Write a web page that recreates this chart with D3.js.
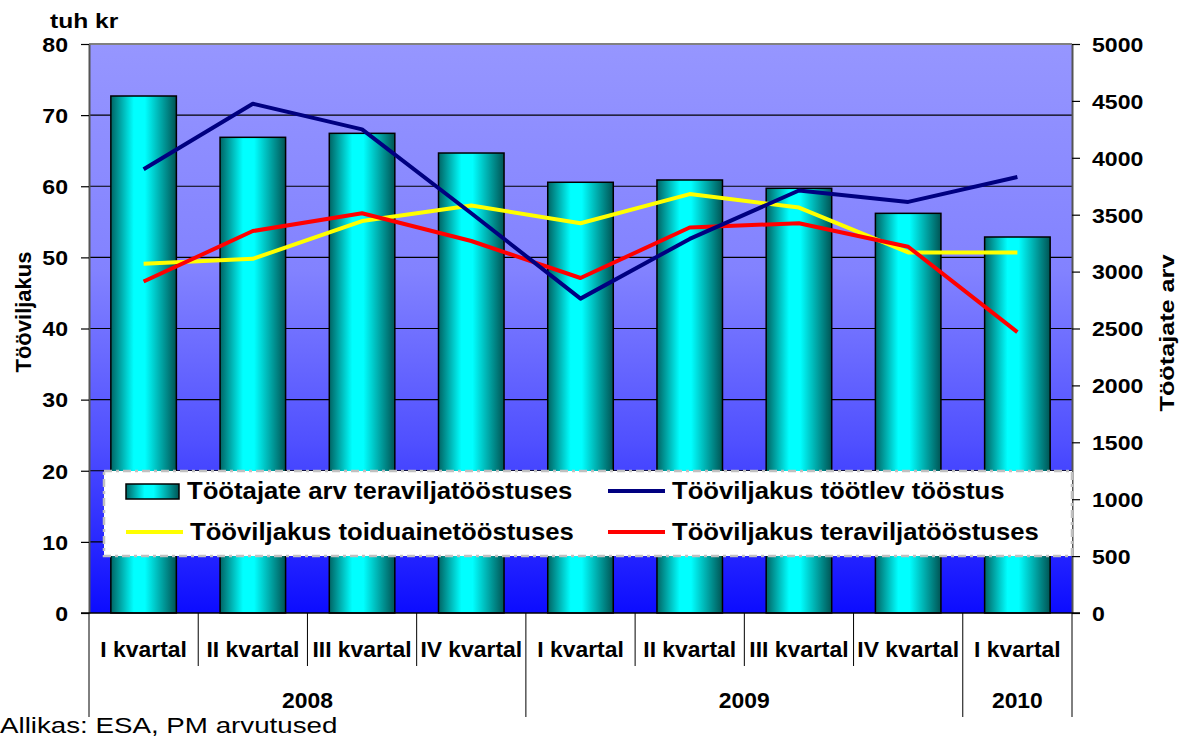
<!DOCTYPE html>
<html><head><meta charset="utf-8">
<script src="https://cdn.jsdelivr.net/npm/d3@7"></script>
<style>body{margin:0;background:#fff}svg{display:block}text{font-family:"Liberation Sans",Arial,sans-serif}</style>
</head><body><svg id="c" width="1184" height="738"></svg>
<script>
const quarters = ["I kvartal","II kvartal","III kvartal","IV kvartal","I kvartal","II kvartal","III kvartal","IV kvartal","I kvartal"];
const years = [{label:"2008",from:0,to:4},{label:"2009",from:4,to:8},{label:"2010",from:8,to:9}];
const employees = [4543,4180,4215,4042,3785,3805,3732,3512,3304];
const prodManufacturing = [62.4,71.6,68.0,56.2,44.2,52.6,59.4,57.8,61.3];
const prodFood = [49.1,49.8,55.1,57.3,54.8,58.9,57.0,50.7,50.7];
const prodGrain = [46.6,53.7,56.2,52.3,47.1,54.2,54.8,51.5,39.5];
const leftTicks = [0,10,20,30,40,50,60,70,80];
const rightTicks = [0,500,1000,1500,2000,2500,3000,3500,4000,4500,5000];
const seriesNames = ["Töötajate arv teraviljatööstuses","Tööviljakus töötlev tööstus","Tööviljakus toiduainetööstuses","Tööviljakus teraviljatööstuses"];

const svg = d3.select("#c");
const L=89,R=1072,T=44,B=613;
const idx = d3.range(quarters.length);
const x = d3.scaleBand().domain(idx).range([L,R]).paddingInner(0.4).paddingOuter(0.2);
const xs = d3.scaleBand().domain(idx).range([L,R]);
const yL = d3.scaleLinear().domain([0,80]).range([B,T]);
const yR = d3.scaleLinear().domain([0,5000]).range([B,T]);

function stretch(sel,k){sel.each(function(){const w=this.getComputedTextLength();d3.select(this).attr("textLength",w*k).attr("lengthAdjust","spacingAndGlyphs");});}

const defs = svg.append("defs");
const bg = defs.append("linearGradient").attr("id","bg").attr("x1",0).attr("y1",0).attr("x2",0).attr("y2",1);
[[0,"#9696ff"],[0.4,"#8282ff"],[0.7,"#5050ff"],[1,"#0c0cff"]].forEach(s=>bg.append("stop").attr("offset",s[0]).attr("stop-color",s[1]));
const bar = defs.append("linearGradient").attr("id","bar").attr("x1",0).attr("y1",0).attr("x2",1).attr("y2",0);
[[0,"#006464"],[0.35,"#00ffff"],[0.52,"#00ffff"],[1,"#005454"]].forEach(s=>bar.append("stop").attr("offset",s[0]).attr("stop-color",s[1]));

svg.append("rect").attr("x",L).attr("y",T).attr("width",R-L).attr("height",B-T).attr("fill","url(#bg)");
svg.append("line").attr("x1",L).attr("x2",R).attr("y1",T).attr("y2",T).attr("stroke","#808080").attr("stroke-width",2);

// gridlines
svg.append("g").selectAll("line").data(leftTicks.filter(d=>d>0&&d<80)).join("line")
  .attr("x1",L).attr("x2",R).attr("y1",d=>yL(d)).attr("y2",d=>yL(d)).attr("stroke","#000").attr("stroke-width",1.2);

// bars
svg.append("g").selectAll("rect").data(employees).join("rect")
  .attr("x",(d,i)=>x(i)).attr("width",x.bandwidth()).attr("y",d=>yR(d)).attr("height",d=>B-yR(d))
  .attr("fill","url(#bar)").attr("stroke","#000").attr("stroke-width",1.5);

// lines
const line = d3.line().x((d,i)=>xs(i)+xs.bandwidth()/2).y(d=>yL(d));
[[prodFood,"#ffff00"],[prodGrain,"#ff0000"],[prodManufacturing,"#000080"]].forEach(([data,c])=>{
  svg.append("path").datum(data).attr("d",line).attr("fill","none").attr("stroke",c).attr("stroke-width",4).attr("stroke-linejoin","round");
});

// axes
const gl = svg.append("g").attr("transform",`translate(${L},0)`).call(d3.axisLeft(yL).tickValues(leftTicks).tickSize(8).tickSizeOuter(0));
gl.select(".domain").attr("stroke","#555").attr("stroke-width",2);
gl.selectAll(".tick line").attr("stroke","#000").attr("stroke-width",1.2);
gl.selectAll("text").attr("font-size",21).attr("font-weight","bold").attr("fill","#000").attr("x",-21).attr("dy","0.35em").call(stretch,1.1);
const gr = svg.append("g").attr("transform",`translate(${R},0)`).call(d3.axisRight(yR).tickValues(rightTicks).tickFormat(d3.format("d")).tickSize(8).tickSizeOuter(0));
gr.select(".domain").attr("stroke","#555").attr("stroke-width",2);
gr.selectAll(".tick line").attr("stroke","#000").attr("stroke-width",1.2);
gr.selectAll("text").attr("font-size",21).attr("font-weight","bold").attr("fill","#000").attr("x",20).attr("dy","0.35em").call(stretch,1.1);

// category axis
svg.append("line").attr("x1",L-8).attr("x2",R+8).attr("y1",B).attr("y2",B).attr("stroke","#000").attr("stroke-width",1.5);
const bounds = d3.range(quarters.length+1).map(i=>i<quarters.length?xs(i):R);
const yearBounds = new Set(years.flatMap(y=>[y.from,y.to]));
svg.append("g").selectAll("line").data(bounds).join("line")
  .attr("x1",d=>d).attr("x2",d=>d).attr("y1",B).attr("y2",(d,i)=>yearBounds.has(i)?717:666)
  .attr("stroke","#000").attr("stroke-width",1);
svg.append("g").selectAll("text").data(quarters).join("text")
  .attr("x",(d,i)=>xs(i)+xs.bandwidth()/2).attr("y",649).attr("dy","0.35em").attr("text-anchor","middle")
  .attr("font-size",22).attr("font-weight","bold").text(d=>d).call(stretch,1.04);
svg.append("g").selectAll("text").data(years).join("text")
  .attr("x",d=>(bounds[d.from]+bounds[d.to])/2).attr("y",700).attr("dy","0.35em").attr("text-anchor","middle")
  .attr("font-size",22).attr("font-weight","bold").text(d=>d.label).call(stretch,1.04);

// titles
svg.append("text").attr("x",50).attr("y",28).attr("font-size",21).attr("font-weight","bold").text("tuh kr").call(stretch,1.17);
svg.append("text").attr("transform","translate(31,312) rotate(-90)").attr("text-anchor","middle").attr("font-size",22).attr("font-weight","bold").text("Tööviljakus").call(stretch,1.0);
svg.append("text").attr("transform","translate(1174,333) rotate(-90)").attr("text-anchor","middle").attr("font-size",21).attr("font-weight","bold").text("Töötajate arv").call(stretch,1.2);
svg.append("text").attr("x",0).attr("y",733).attr("font-size",22).text("Allikas: ESA, PM arvutused").call(stretch,1.26);

// legend
const lg = svg.append("g");
lg.append("rect").attr("x",104).attr("y",471).attr("width",R-104).attr("height",85).attr("fill","#fff")
  .attr("stroke","#c0c0c0").attr("stroke-width",2.5).attr("stroke-dasharray","8,4,3,4");
const items = [
  {name:seriesNames[0],type:"bar",x:126,y:491},
  {name:seriesNames[1],type:"line",color:"#000080",x:608,y:491},
  {name:seriesNames[2],type:"line",color:"#ffff00",x:126,y:532},
  {name:seriesNames[3],type:"line",color:"#ff0000",x:608,y:532}
];
items.forEach(it=>{
  if(it.type==="bar") lg.append("rect").attr("x",it.x).attr("y",it.y-7).attr("width",53).attr("height",15).attr("fill","url(#bar)").attr("stroke","#000").attr("stroke-width",1.5);
  else lg.append("line").attr("x1",it.x).attr("x2",it.x+57).attr("y1",it.y).attr("y2",it.y).attr("stroke",it.color).attr("stroke-width",4);
  lg.append("text").attr("x",it.x+(it.type==="bar"?61:64)).attr("y",it.y).attr("dy","0.35em").attr("font-size",24).attr("font-weight","bold").text(it.name).call(stretch,1.07);
});
</script></body></html>
